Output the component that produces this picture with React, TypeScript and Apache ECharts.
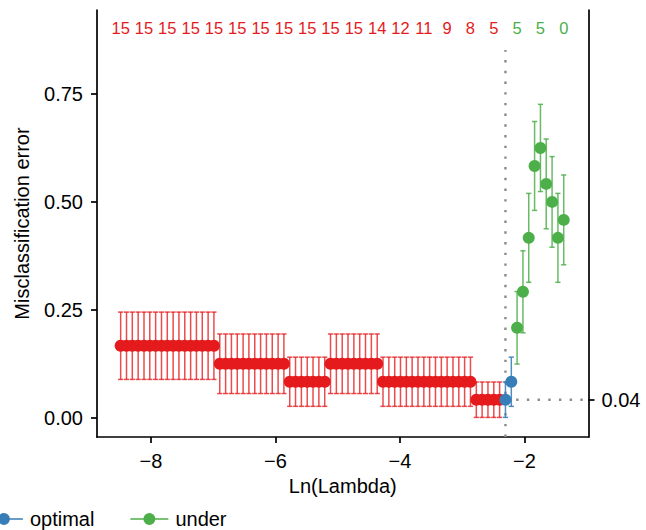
import React, { useEffect, useRef } from "react";
import * as echarts from "echarts";

// ln(lambda) for every fitted lambda
const logLambda = [
  -8.487, -8.393, -8.300, -8.206, -8.112, -8.019, -7.925, -7.831, -7.738, -7.644,
  -7.551, -7.457, -7.363, -7.270, -7.176, -7.082, -6.989, -6.895, -6.801, -6.708,
  -6.614, -6.520, -6.427, -6.333, -6.239, -6.146, -6.052, -5.958, -5.865, -5.771,
  -5.678, -5.584, -5.490, -5.397, -5.303, -5.209, -5.116, -5.022, -4.928, -4.835,
  -4.741, -4.647, -4.554, -4.460, -4.366, -4.273, -4.179, -4.085, -3.992, -3.898,
  -3.805, -3.711, -3.617, -3.524, -3.430, -3.336, -3.243, -3.149, -3.055, -2.962,
  -2.868, -2.774, -2.681, -2.587, -2.493, -2.400, -2.306, -2.212, -2.119, -2.025,
  -1.932, -1.838, -1.744, -1.651, -1.557, -1.463, -1.370,
];

// mean misclassification error
const cvm = [
  0.1667, 0.1667, 0.1667, 0.1667, 0.1667, 0.1667, 0.1667, 0.1667, 0.1667, 0.1667,
  0.1667, 0.1667, 0.1667, 0.1667, 0.1667, 0.1667, 0.1667, 0.125, 0.125, 0.125,
  0.125, 0.125, 0.125, 0.125, 0.125, 0.125, 0.125, 0.125, 0.125, 0.0833,
  0.0833, 0.0833, 0.0833, 0.0833, 0.0833, 0.0833, 0.125, 0.125, 0.125, 0.125,
  0.125, 0.125, 0.125, 0.125, 0.125, 0.0833, 0.0833, 0.0833, 0.0833, 0.0833,
  0.0833, 0.0833, 0.0833, 0.0833, 0.0833, 0.0833, 0.0833, 0.0833, 0.0833, 0.0833,
  0.0833, 0.0417, 0.0417, 0.0417, 0.0417, 0.0417, 0.0417, 0.0833, 0.2083, 0.2917,
  0.4167, 0.5833, 0.625, 0.5417, 0.5, 0.4167, 0.4583,
];

// standard error (half length of error bar)
const cvsd = [
  0.078, 0.078, 0.078, 0.078, 0.078, 0.078, 0.078, 0.078, 0.078, 0.078,
  0.078, 0.078, 0.078, 0.078, 0.078, 0.078, 0.078, 0.069, 0.069, 0.069,
  0.069, 0.069, 0.069, 0.069, 0.069, 0.069, 0.069, 0.069, 0.069, 0.057,
  0.057, 0.057, 0.057, 0.057, 0.057, 0.057, 0.069, 0.069, 0.069, 0.069,
  0.069, 0.069, 0.069, 0.069, 0.069, 0.057, 0.057, 0.057, 0.057, 0.057,
  0.057, 0.057, 0.057, 0.057, 0.057, 0.057, 0.057, 0.057, 0.057, 0.057,
  0.057, 0.041, 0.041, 0.041, 0.041, 0.041, 0.041, 0.057, 0.084, 0.095,
  0.103, 0.103, 0.101, 0.104, 0.105, 0.103, 0.104,
];

// fit class runs in lambda order
const classNames = ["over", "optimal", "under"];
const classRunLengths = [66, 2, 9];

// number of non-zero coefficients, shown for every 4th lambda
const nzeroLabels = [15, 15, 15, 15, 15, 15, 15, 15, 15, 15, 15, 14, 12, 11, 9, 8, 5, 5, 5, 0];
const nzeroStep = 4;
const nzeroY = 0.9026;

const optimalIndex = 66;
const vlineTop = 0.852;

const xTicks = [-8, -6, -4, -2];
const yTicks = [0, 0.25, 0.5, 0.75];

const X_MIN = -8.867;
const X_MAX = -0.972;
const Y_MIN = -0.0447;
const Y_MAX = 0.9446;

const COLORS: Record<string, string> = {
  over: "#E41A1C",
  optimal: "#377EB8",
  under: "#4DAF4A",
};
const BAR_COLORS: Record<string, string> = {
  over: "rgba(228,26,28,0.78)",
  optimal: "rgba(55,126,184,0.88)",
  under: "rgba(77,175,74,0.85)",
};

const FONT = "'Liberation Sans', Arial, Helvetica, sans-serif";

export default function App() {
  const ref = useRef<HTMLDivElement>(null);

  useEffect(() => {
    if (!ref.current) return;
    const chart = echarts.init(ref.current, undefined, { renderer: "svg" });

    const cls: string[] = [];
    classRunLengths.forEach((n, k) => {
      for (let j = 0; j < n; j++) cls.push(classNames[k]);
    });

    const barData = logLambda.map((x, i) => [
      x,
      cvm[i] - cvsd[i],
      cvm[i] + cvsd[i],
      classNames.indexOf(cls[i]),
    ]);

    const pointSeries = classNames.map((name) => ({
      name,
      type: "scatter",
      symbol: "circle",
      symbolSize: 12,
      z: 4,
      itemStyle: { color: COLORS[name], opacity: 1 },
      data: logLambda
        .map((x, i) => (cls[i] === name ? [x, cvm[i]] : null))
        .filter((d) => d !== null),
    }));

    const labelData = nzeroLabels.map((n, k) => {
      const i = k * nzeroStep;
      return [logLambda[i], nzeroY, n, classNames.indexOf(cls[i])];
    });

    const dotted = {
      color: "#8a8a8a",
      width: 2.4,
      type: [2.4, 8.3] as any,
    };

    const legendIcon =
      "path://M0,5.35L38,5.35L38,6.65L0,6.65Z M13,6A6,6 0 1 1 25,6A6,6 0 1 1 13,6Z";

    const option: any = {
      animation: false,
      textStyle: { fontFamily: FONT },
      grid: { left: 97, right: 57.5, top: 10, bottom: 93, containLabel: false },
      legend: {
        data: classNames,
        left: -140,
        top: 504,
        icon: legendIcon,
        itemWidth: 38,
        itemHeight: 12,
        itemGap: 36,
        textStyle: { fontSize: 20, color: "#000", fontFamily: FONT, padding: [0, 0, 0, 2] },
      },
      xAxis: {
        type: "value",
        min: X_MIN,
        max: X_MAX,
        axisLine: { show: true, onZero: false, lineStyle: { color: "#000", width: 1.7 } },
        axisTick: { show: true, length: 6, lineStyle: { color: "#000", width: 1.7 }, customValues: xTicks },
        axisLabel: {
          customValues: xTicks,
          fontSize: 20,
          color: "#000",
          margin: 14,
          formatter: (v: number) => String(v).replace("-", "\u2212"),
        },
        splitLine: { show: false },
        name: "Ln(Lambda)",
        nameLocation: "middle",
        nameGap: 37,
        nameTextStyle: { fontSize: 20, color: "#000" },
      },
      yAxis: [
        {
          type: "value",
          min: Y_MIN,
          max: Y_MAX,
          axisLine: { show: true, onZero: false, lineStyle: { color: "#000", width: 1.7 } },
          axisTick: { show: true, length: 6, lineStyle: { color: "#000", width: 1.7 }, customValues: yTicks },
          axisLabel: {
            customValues: yTicks,
            fontSize: 20,
            color: "#000",
            margin: 14,
            formatter: (v: number) => v.toFixed(2),
          },
          splitLine: { show: false },
          name: "Misclassification error",
          nameLocation: "middle",
          nameGap: 65,
          nameTextStyle: { fontSize: 20, color: "#000" },
        },
        {
          type: "value",
          position: "right",
          min: Y_MIN,
          max: Y_MAX,
          axisLine: { show: true, onZero: false, lineStyle: { color: "#000", width: 1.7 } },
          axisTick: { show: true, length: 6, lineStyle: { color: "#000", width: 1.7 }, customValues: [cvm[optimalIndex]] },
          axisLabel: {
            customValues: [cvm[optimalIndex]],
            fontSize: 20,
            color: "#000",
            margin: 13,
            formatter: (v: number) => v.toFixed(2),
          },
          splitLine: { show: false },
        },
      ],
      series: [
        {
          name: "vline",
          type: "line",
          symbol: "none",
          silent: true,
          z: 1,
          lineStyle: dotted,
          data: [
            [logLambda[optimalIndex], Y_MIN],
            [logLambda[optimalIndex], vlineTop],
          ],
        },
        {
          name: "hline",
          type: "line",
          symbol: "none",
          silent: true,
          z: 1,
          lineStyle: dotted,
          data: [
            [logLambda[optimalIndex], cvm[optimalIndex]],
            [X_MAX, cvm[optimalIndex]],
          ],
        },
        {
          name: "errorbars",
          type: "custom",
          z: 2,
          silent: true,
          encode: { x: 0, y: [1, 2] },
          data: barData,
          renderItem: (_params: any, api: any) => {
            const x = api.value(0);
            const lo = api.value(1);
            const hi = api.value(2);
            const c = classNames[api.value(3)];
            const pT = api.coord([x, hi]);
            const pB = api.coord([x, lo]);
            const hw = 2.6;
            const style = { stroke: BAR_COLORS[c], lineWidth: 1.5, fill: null };
            return {
              type: "group",
              children: [
                { type: "line", shape: { x1: pT[0], y1: pT[1], x2: pB[0], y2: pB[1] }, style },
                { type: "line", shape: { x1: pT[0] - hw, y1: pT[1], x2: pT[0] + hw, y2: pT[1] }, style },
                { type: "line", shape: { x1: pB[0] - hw, y1: pB[1], x2: pB[0] + hw, y2: pB[1] }, style },
              ],
            };
          },
        },
        ...pointSeries,
        {
          name: "nzero",
          type: "custom",
          silent: true,
          z: 5,
          encode: { x: 0, y: 1 },
          data: labelData,
          renderItem: (_params: any, api: any) => {
            const p = api.coord([api.value(0), api.value(1)]);
            const c = classNames[api.value(3)];
            return {
              type: "text",
              x: p[0],
              y: p[1],
              style: {
                text: String(api.value(2)),
                fill: COLORS[c],
                fontSize: 16.5,
                fontFamily: FONT,
                align: "center",
                verticalAlign: "middle",
              },
            };
          },
        },
      ],
    };

    chart.setOption(option);
    return () => chart.dispose();
  }, []);

  return (
    <div
      ref={ref}
      style={{ position: "absolute", left: 0, top: 0, width: 646, height: 530, background: "#fff" }}
    />
  );
}
